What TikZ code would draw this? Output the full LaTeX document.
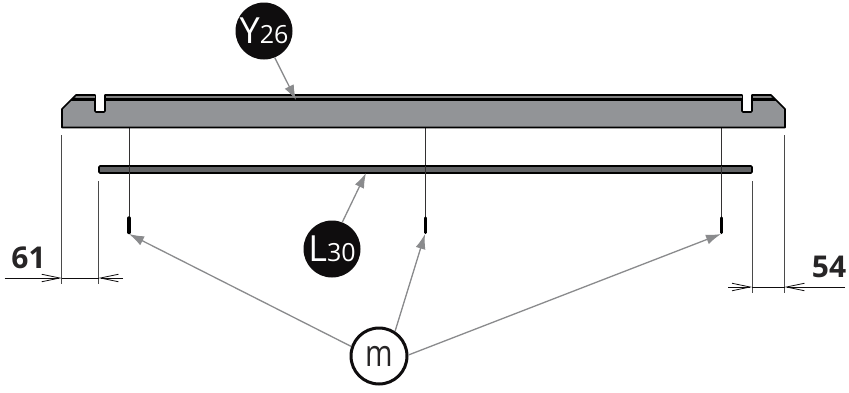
\documentclass[tikz,border=0pt]{standalone}
\usepackage{fontspec}
\setmainfont{Open Sans}
\usetikzlibrary{arrows.meta}
\definecolor{barfill}{HTML}{929497}
\definecolor{stripfill}{HTML}{636466}
\definecolor{inkk}{HTML}{0F0D0E}
\definecolor{leader}{HTML}{8A8B8D}
\definecolor{dimline}{HTML}{4A4A4A}
\tikzset{
  part/.style={draw=black,line width=1.6pt,line join=round},
  pinline/.style={draw=inkk!85,line width=0.9pt},
  pinend/.style={draw=black,line width=3.4pt,line cap=round},
  extline/.style={draw=dimline,line width=1pt},
  dimarrow/.style={draw=inkk,line width=0.9pt,-{Straight Barb[length=18pt,width=7.5pt,line width=0.8pt]}},
  callout/.style={circle,fill=inkk,text=white,minimum size=57pt,inner sep=0pt},
  ringed/.style={circle,draw=inkk,fill=white,line width=3pt,text=inkk!90,minimum size=56pt,inner sep=0pt,font=\fontsize{37}{37}\selectfont},
  leaderarrow/.style={draw=leader,line width=1.3pt,-{Latex[length=15pt,width=10pt]}},
  dimtext/.style={font=\fontsize{30}{30}\selectfont\bfseries,text=inkk!90,inner sep=0pt}
}
\begin{document}
\begin{tikzpicture}[x=1pt,y=-1pt]
\useasboundingbox (0,0) rectangle (849,392);
\fill[white] (0,0) rectangle (849,392);
% vertical pin lines
\draw[pinline] (129,127) -- (129,217);
\draw[pinline] (425.5,127) -- (425.5,217);
\draw[pinline] (721.5,127) -- (721.5,217);
% main bar
\path[part,fill=barfill] (62,109) -- (76,95) -- (95,95) -- (95,111) -- (96,112) -- (104,112) -- (105,111) -- (105,95)
  -- (742,95) -- (742,111) -- (743,112) -- (751,112) -- (752,111) -- (752,95)
  -- (771,95) -- (785,109) -- (785,127.5) -- (62,127.5) -- cycle;
\fill[black] (73.5,97.7) -- (95,97.7) -- (95,100.8) -- (71,100.8) -- cycle;
\fill[black] (105,97.7) -- (742,97.7) -- (742,100.8) -- (105,100.8) -- cycle;
\fill[black] (752,97.7) -- (773.5,97.7) -- (776,100.8) -- (752,100.8) -- cycle;
\fill[white!50!black] (76,96) rectangle (94.5,97.7);
\fill[white!50!black] (105.5,96) rectangle (741.5,97.7);
\fill[white!50!black] (752.5,96) rectangle (770.5,97.7);
% strip
\path[part,fill=stripfill,rounded corners=1pt] (99,166) rectangle (752,173);
\draw[pinline] (129,166) -- (129,175);
\draw[pinline] (425.5,166) -- (425.5,175);
\draw[pinline] (721.5,166) -- (721.5,175);
% extension lines
\draw[extline] (61.7,135) -- (61.7,283.5);
\draw[extline] (98.5,181) -- (98.5,283.5);
\draw[extline] (752,181) -- (752,293);
\draw[extline] (784.5,135) -- (784.5,293);
% dimension arrows
\coordinate (d1a) at (4.5,278);
\coordinate (d1b) at (61.7,278);
\coordinate (d1c) at (123,278);
\coordinate (d1d) at (98.5,278);
\coordinate (d2a) at (728,287);
\coordinate (d2b) at (752,287);
\coordinate (d2c) at (845,287);
\coordinate (d2d) at (784.5,287);
\draw[dimarrow] (d1a) -- (d1b);
\draw[dimarrow] (d1c) -- (d1d);
\draw[dimarrow] (d2a) -- (d2b);
\draw[dimarrow] (d2c) -- (d2d);
\draw[draw=inkk,line width=0.9pt] (d1b) -- (d1d);
\draw[draw=inkk,line width=0.9pt] (d2b) -- (d2d);
\node[dimtext] (t61) at (28.5,258) {61};
\node[dimtext] (t54) at (829,267) {54};
% callouts
\node[callout] (y) at (264,31) {\fontsize{36}{36}\selectfont Y\fontsize{25}{25}\selectfont 26};
\node[callout] (l) at (332,249) {\fontsize{36}{36}\selectfont L\fontsize{25}{25}\selectfont 30};
\node[ringed] (m) at (379,356) {\scalebox{.8}[1]{m}};
\coordinate (ytip) at (296,100);
\coordinate (ltip) at (366,173);
\coordinate (p1) at (129,234);
\coordinate (p2) at (425,234);
\coordinate (p3) at (721,234);
\draw[leaderarrow] (y.-68) -- (ytip);
\draw[leaderarrow] (l.69) -- (ltip);
\draw[leaderarrow] (m.161) -- (p1);
\draw[leaderarrow] (m.57) -- (p2);
\draw[leaderarrow] (m.2) -- (p3);
% pin ends
\draw[pinend] (129,218) -- (129,232.5);
\draw[pinend] (425.5,218) -- (425.5,232.5);
\draw[pinend] (721.5,218) -- (721.5,232.5);
\end{tikzpicture}
\end{document}
